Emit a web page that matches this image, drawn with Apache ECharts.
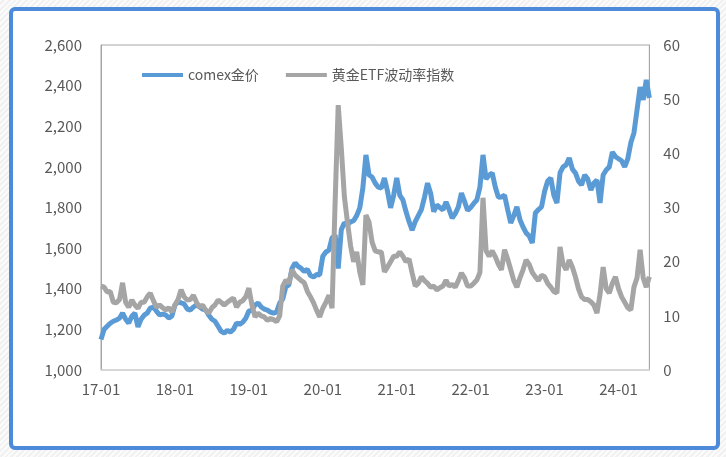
<!DOCTYPE html>
<html>
<head>
<meta charset="utf-8">
<script src="https://cdn.jsdelivr.net/npm/echarts@6/dist/echarts.min.js"></script>
<style>
  html, body { margin: 0; padding: 0; width: 726px; height: 457px; overflow: hidden;
    background: repeating-linear-gradient(135deg, #fbfbfb 0 2px, #f1f1f1 2px 4px); }
  #frame { position: absolute; left: 9px; top: 7px; width: 703px; height: 435px;
    border: 4px solid #4d8ad9; border-radius: 6px; background: #fff; }
  #main { position: absolute; left: 0; top: 0; width: 683px; height: 457px; }
</style>
</head>
<body>
<div id="frame"></div>
<div id="main"></div>
<script>
// half-month samples, 2017-01 .. 2024-06
let comex17 = [1150,1200,1215,1230,1240,1246,1255,1280,1250,1231,1265,1280,1212,1250,1270,1280,1305,1310,1290,1271,1275,1271,1256,1265]
let comex18 = [1320,1335,1330,1325,1300,1295,1310,1320,1310,1300,1295,1270,1250,1240,1215,1190,1182,1195,1187,1200,1231,1225,1235,1255]
let comex19 = [1290,1295,1320,1330,1310,1300,1295,1285,1280,1285,1330,1350,1409,1420,1500,1527,1510,1500,1485,1495,1465,1458,1470,1468]
let comex20 = [1560,1581,1590,1650,1665,1500,1690,1725,1715,1729,1735,1760,1798,1896,2059,1960,1950,1920,1900,1896,1945,1880,1798,1860]
let comex21 = [1945,1860,1837,1780,1730,1689,1730,1760,1790,1850,1920,1870,1780,1812,1800,1788,1827,1790,1748,1770,1803,1871,1830,1785]
let comex22 = [1800,1820,1837,1900,2059,1940,1960,1970,1900,1850,1852,1860,1790,1724,1760,1803,1740,1704,1675,1660,1625,1773,1790,1803]
let comex23 = [1880,1930,1945,1860,1822,1970,2000,2010,2044,1990,1970,1930,1911,1960,1940,1886,1920,1935,1822,1960,1985,2000,2073,2050]
let comex24 = [2040,2030,2000,2040,2120,2167,2280,2393,2330,2428,2339]

let etf17 = [15.5,15.3,14.4,14.5,12.5,12.4,13,16.1,12.5,11.6,12.9,12,11.4,12.5,12.5,13.5,14.2,12.8,11.6,12,11.5,11.1,11.5,10.7]
let etf18 = [12,13,14.8,13.5,12.9,13,13.8,12.5,11.6,12,11,10.5,11.5,12,12.9,12.5,12,12.5,12.9,13.3,11.6,12.5,12.8,13.5]
let etf19 = [15.1,12,9.8,10.5,10,9.8,9.2,9.5,9.3,8.9,10,15.5,16.6,16,18.5,17.5,17,16.5,16.1,14.5,13.5,12.4,11,9.8]
let etf20 = [11.4,12.5,13.8,11.4,31,48.9,41,32,27.3,23,20,21.8,18.1,15.7,28.6,27.3,23.6,22,21.8,21.8,18.1,19,20,21]
let etf21 = [21,21.8,21,20,20.5,17.9,15.5,16,17.2,16.5,16,15.3,15.5,14.8,15.2,15.5,16.6,15.5,15.8,15.3,16.5,17.9,17,15.5]
let etf22 = [15.5,16,16.6,18,31.8,22,21,22,20.9,19.5,18.5,22.2,20.5,18.5,16.5,15.3,17,18.5,20.3,19.5,18,17.2,16.5,17.5]
let etf23 = [17.2,16,15.3,14.5,14.2,22.7,19.5,18.5,20.3,19,17.2,15,13.5,13,13,12.6,12,10.5,14,19,15,14.2,16,17.2]
let etf24 = [15,13.5,12.5,11.5,11.1,15.3,17,22.2,17,15.3,17.2]

let comex = [].concat(comex17, comex18, comex19, comex20, comex21, comex22, comex23, comex24)
let etfVol = [].concat(etf17, etf18, etf19, etf20, etf21, etf22, etf23, etf24)

let dates = []
for (let y = 2017; y <= 2024; y++) {
    for (let m = 1; m <= 12; m++) {
        let mm = (m < 10 ? '0' : '') + m
        dates.push(y + '-' + mm + '-01')
        dates.push(y + '-' + mm + '-16')
    }
}
dates = dates.slice(0, comex.length)

let font = "'Noto Sans CJK SC', 'Noto Sans', sans-serif"
let labelStyle = { color: '#595959', fontSize: 15, fontFamily: font }

let myChart = echarts.init(document.getElementById('main'))

let option = {
    animation: false,
    grid: {
        left: 101, top: 45, right: 31, bottom: 87,
        show: true, borderColor: '#a6a6a6', borderWidth: 1
    },
    legend: {
        left: 137, top: 63,
        icon: 'rect', itemWidth: 41, itemHeight: 4, itemGap: 27,
        textStyle: { color: '#595959', fontSize: 14, fontFamily: font },
        data: ['comex金价', '黄金ETF波动率指数']
    },
    xAxis: {
        type: 'category',
        boundaryGap: false,
        data: dates,
        axisLine: { lineStyle: { color: '#d9d9d9', width: 1.5 } },
        axisTick: { show: false },
        axisLabel: Object.assign({
            margin: 12,
            interval: (i, v) => v.slice(5) === '01-01',
            formatter: v => v.slice(2, 7)
        }, labelStyle),
        splitLine: { show: false }
    },
    yAxis: [
        {
            type: 'value', min: 1000, max: 2600, interval: 200,
            axisLine: { show: true, lineStyle: { color: '#a6a6a6' } },
            axisTick: { show: false },
            splitLine: { show: false },
            axisLabel: Object.assign({
                margin: 19,
                formatter: v => v.toLocaleString('en-US')
            }, labelStyle)
        },
        {
            type: 'value', min: 0, max: 60, interval: 10,
            axisLine: { show: true, lineStyle: { color: '#a6a6a6' } },
            axisTick: { show: false },
            splitLine: { show: false },
            axisLabel: Object.assign({ margin: 14 }, labelStyle)
        }
    ],
    series: [
        {
            name: 'comex金价',
            type: 'line',
            yAxisIndex: 0,
            showSymbol: false,
            data: comex,
            itemStyle: { color: '#5b9bd5' },
            lineStyle: { color: '#5b9bd5', width: 5 }
        },
        {
            name: '黄金ETF波动率指数',
            type: 'line',
            yAxisIndex: 1,
            showSymbol: false,
            data: etfVol,
            itemStyle: { color: '#a5a5a5' },
            lineStyle: { color: '#a5a5a5', width: 5 }
        }
    ]
}

myChart.setOption(option)
</script>
</body>
</html>
